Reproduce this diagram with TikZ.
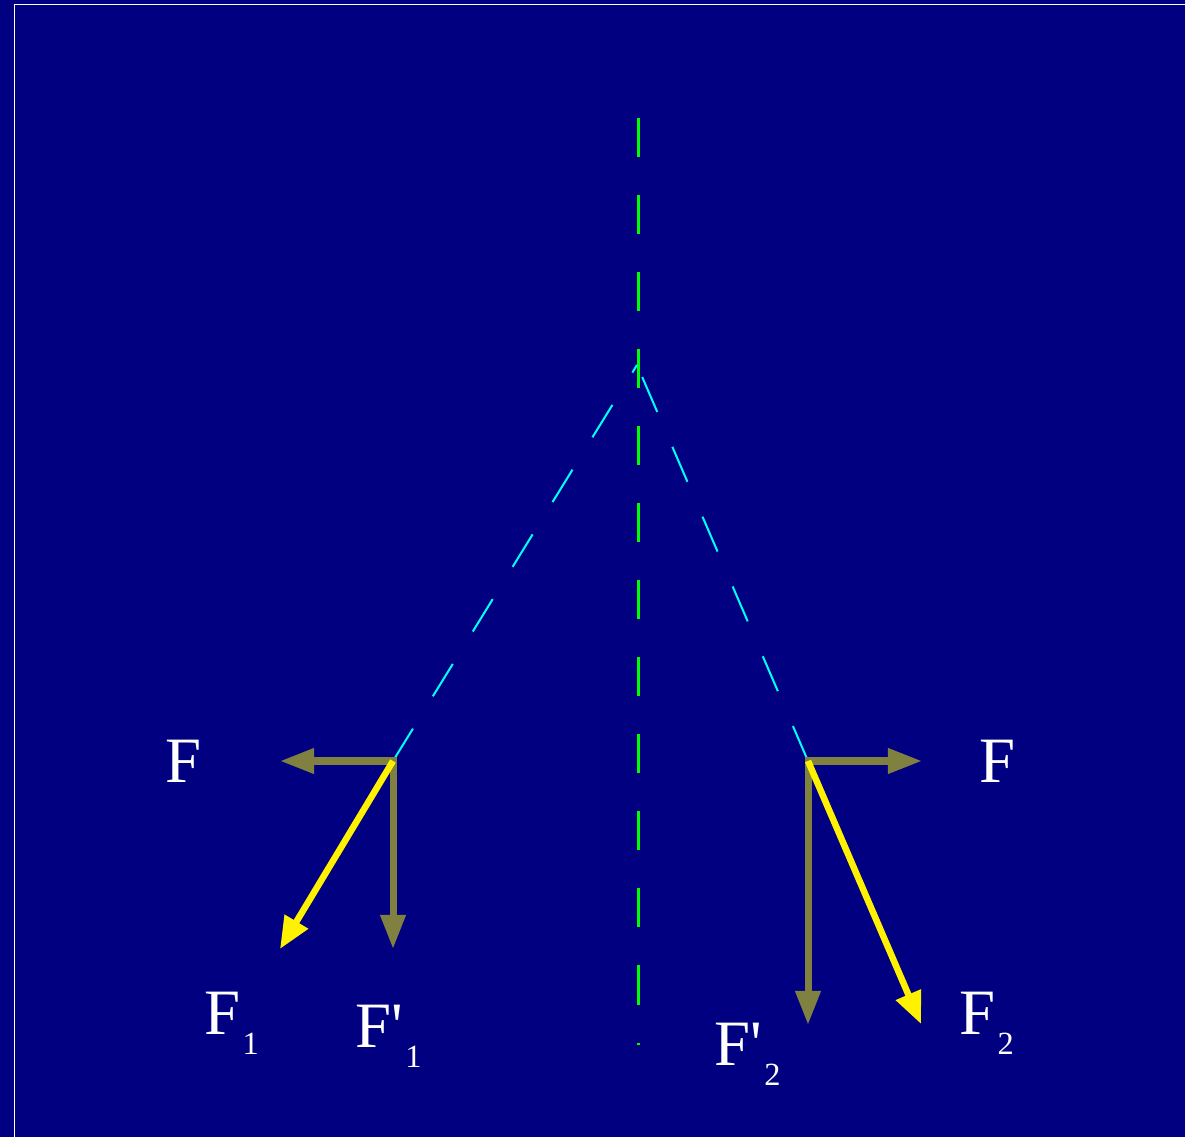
\documentclass[tikz,border=0pt]{standalone}
\usepackage{fontspec}
\setmainfont{Liberation Serif}[Ligatures=TeXOff]
\usepackage{tikz}
\usetikzlibrary{arrows.meta}
\definecolor{bgnavy}{RGB}{0,0,128}
\definecolor{compolive}{RGB}{128,128,64}
\definecolor{axisgreen}{RGB}{0,255,0}
\definecolor{guidecyan}{RGB}{0,255,255}
\newcommand{\lsub}[1]{\kern0.02cm\raisebox{-0.2cm}{\fontsize{9.2}{10}\selectfont #1}}
\tikzset{
    comp/.style={draw=compolive, line width=0.07cm, line cap=rect, -{Triangle[length=0.34cm, width=0.24cm]}},
    res/.style={draw=yellow, line width=0.065cm, -{Triangle[length=0.32cm, width=0.26cm]}},
    axisln/.style={draw=axisgreen, line width=0.03cm, dash pattern=on 0.39cm off 0.38cm},
    guide/.style={draw=guidecyan, line width=0.02cm, dash pattern=on 0.38cm off 0.38cm},
    lbl/.style={text=white, inner sep=0pt, anchor=base west, font=\fontsize{18.4}{20}\selectfont}
}
\begin{document}
\begin{tikzpicture}[x=0.01cm, y=-0.01cm]
        \useasboundingbox[fill=bgnavy] (0,0) rectangle (1185,1137);
        \draw[white, line width=0.012cm] (14.5,1137) -- (14.5,4.5) -- (1185,4.5);

        \coordinate (apex) at (637,365);
        \coordinate (top) at (638.5,118);
        \coordinate (bot) at (638.5,1045);
        \coordinate (p1) at (393,761);
        \coordinate (p2) at (808,761);
        \coordinate (h1) at (280,761);
        \coordinate (v1) at (393,949);
        \coordinate (r1) at (280,949);
        \coordinate (h2) at (922,761);
        \coordinate (v2) at (808,1025);
        \coordinate (r2) at (921,1024);

        \draw[axisln] (top) -- (bot);
        \draw[guide] (p1) -- (apex);
        \draw[guide] (p2) -- (apex);

        \draw[comp] (p1) -- (h1);
        \draw[comp] (p1) -- (v1);
        \draw[comp] (p2) -- (h2);
        \draw[comp] (p2) -- (v2);
        \draw[res] (p1) -- (r1);
        \draw[res] (p2) -- (r2);

        \node[lbl] (fl) at (165,782) {F};
        \node[lbl] (fr) at (979,782) {F};
        \node[lbl] (f1) at (204,1034) {F\lsub{1}};
        \node[lbl] (f1p) at (355,1047) {F'\lsub{1}};
        \node[lbl] (f2p) at (714,1065) {F'\lsub{2}};
        \node[lbl] (f2) at (959,1034) {F\lsub{2}};
    \end{tikzpicture}
\end{document}
